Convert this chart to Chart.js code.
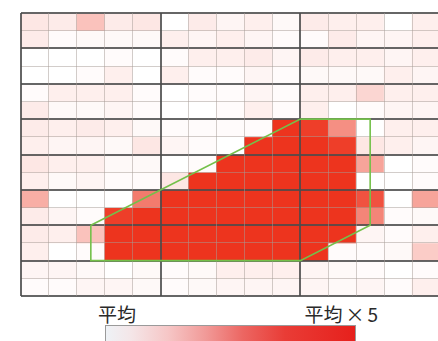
<!DOCTYPE html>
<html>
<head>
<meta charset="utf-8">
<script src="https://cdn.jsdelivr.net/npm/chart.js@4"></script>
<style>
  body { margin: 0; background: #fff; width: 438px; height: 341px; overflow: hidden; position: relative; }
  #wrap { position: absolute; left: 0; top: 0; width: 445px; height: 300px; }
  .lbl { position: absolute; font-family: "Noto Sans CJK JP", "Noto Sans", sans-serif; font-size: 19px; color: #2a2a2a; line-height: 19px; white-space: nowrap; }
  #scale { position: absolute; left: 105px; top: 325px; width: 249px; height: 24px; border: 1px solid #9a9a9a;
    background: linear-gradient(to right, #eef2f6 0%, #f4e6e8 10%, #f6c6c6 25%, #f19a98 40%, #ec6662 55%, #e93c36 72%, #e6201c 100%); }
</style>
</head>
<body>
<div id="wrap"><canvas id="heat"></canvas></div>
<div class="lbl" style="left:98px; top:304px;">平均</div>
<div class="lbl" style="right:60px; top:304px;">平均<span style="margin-left:3px">×</span><span style="margin-left:3px">5</span></div>
<div id="scale"></div>
<script>
// grid: 15 columns x 16 rows, values 0 (white) .. 1 (full red)
const cols = ["c1","c2","c3","c4","c5","c6","c7","c8","c9","c10","c11","c12","c13","c14","c15"];
const values = [
  [0.12,0.10,0.30,0.10,0.12, 0.00,0.10,0.05,0.08,0.03, 0.10,0.08,0.08,0.00,0.08],
  [0.10,0.02,0.03,0.03,0.03, 0.08,0.05,0.08,0.05,0.02, 0.02,0.10,0.05,0.05,0.08],
  [0.00,0.00,0.00,0.02,0.00, 0.02,0.08,0.08,0.10,0.05, 0.10,0.08,0.08,0.05,0.08],
  [0.00,0.00,0.02,0.08,0.00, 0.08,0.02,0.02,0.05,0.02, 0.03,0.03,0.03,0.08,0.05],
  [0.02,0.08,0.08,0.08,0.02, 0.00,0.02,0.02,0.05,0.02, 0.08,0.08,0.20,0.08,0.08],
  [0.10,0.03,0.03,0.05,0.02, 0.00,0.00,0.02,0.08,0.02, 0.08,0.00,0.02,0.05,0.05],
  [0.10,0.08,0.10,0.08,0.03, 0.02,0.02,0.02,0.02,1.00, 0.95,0.55,0.00,0.08,0.08],
  [0.08,0.05,0.05,0.03,0.12, 0.05,0.02,0.00,1.00,1.00, 1.00,0.95,0.12,0.08,0.05],
  [0.12,0.08,0.08,0.03,0.03, 0.00,0.02,1.00,1.00,1.00, 1.00,1.00,0.45,0.00,0.02],
  [0.08,0.03,0.05,0.02,0.02, 0.12,1.00,1.00,1.00,1.00, 1.00,1.00,0.00,0.00,0.02],
  [0.40,0.00,0.00,0.00,0.65, 1.00,1.00,1.00,1.00,1.00, 1.00,1.00,0.85,0.00,0.45],
  [0.10,0.05,0.02,0.95,1.00, 1.00,1.00,1.00,1.00,1.00, 1.00,1.00,0.60,0.02,0.03],
  [0.10,0.08,0.30,1.00,1.00, 1.00,1.00,1.00,1.00,1.00, 1.00,1.00,0.05,0.02,0.08],
  [0.08,0.00,0.02,1.00,1.00, 1.00,1.00,1.00,1.00,1.00, 1.00,0.02,0.02,0.03,0.25],
  [0.05,0.05,0.03,0.00,0.03, 0.02,0.03,0.08,0.08,0.08, 0.05,0.03,0.02,0.00,0.02],
  [0.02,0.02,0.05,0.05,0.03, 0.02,0.03,0.05,0.05,0.05, 0.05,0.03,0.05,0.02,0.08]
];
// green outline, in grid units (x = column edge, y = row edge from top)
const outlineX = [2.5, 10, 12.5, 12.5, 10, 2.5, 2.5];
const outlineY = [12, 6, 6, 12, 14, 14, 12];

function cellColor(v) {
  const r = Math.round(255 + (237 - 255) * v);
  const g = Math.round(255 + (52 - 255) * v);
  const b = Math.round(255 + (30 - 255) * v);
  return `rgb(${r},${g},${b})`;
}

const datasets = values.map((row, i) => ({
  type: "bar",
  label: "row" + (i + 1),
  data: row.map(() => 1),
  backgroundColor: row.map(cellColor),
  borderWidth: 0,
  barPercentage: 1,
  categoryPercentage: 1,
  grouped: false,
  xAxisID: "x",
  yAxisID: "y",
  stack: "grid"
}));

const outlineIndex = datasets.length;
datasets.push({
  type: "line",
  label: "outline",
  data: outlineX.map((x, i) => ({ x: x, y: outlineY[i] })),
  borderColor: "#74c04a",
  borderWidth: 1.6,
  pointRadius: 0,
  tension: 0,
  fill: false,
  xAxisID: "xg",
  yAxisID: "yg"
});

// draw the outline again above the grid lines
const outlineOnTop = {
  id: "outlineOnTop",
  afterDraw(chart) {
    const a = chart.chartArea;
    const ctx = chart.ctx;
    ctx.save();
    ctx.beginPath();
    ctx.rect(a.left - 2, a.top - 2, a.right - a.left + 4, a.bottom - a.top + 4);
    ctx.clip();
    chart.getDatasetMeta(outlineIndex).controller.draw();
    ctx.restore();
  }
};

const thin = "rgba(165,155,150,0.5)";
const thick = "rgba(75,75,75,0.85)";

new Chart(document.getElementById("heat"), {
  data: { labels: cols, datasets: datasets },
  options: {
    responsive: true,
    maintainAspectRatio: false,
    animation: false,
    layout: { padding: { left: 21, top: 13, right: 5, bottom: 4 } },
    plugins: { legend: { display: false }, tooltip: { enabled: false } },
    scales: {
      x: { display: false, stacked: true, offset: true },
      y: {
        stacked: true, reverse: true, min: 0, max: 16,
        border: { display: false },
        ticks: { display: false, stepSize: 1 },
        grid: {
          z: 1,
          drawTicks: false,
          lineWidth: (c) => (c.tick && c.tick.value % 2 === 0 ? 2 : 1),
          color: (c) => (c.tick && c.tick.value % 2 === 0 ? thick : thin)
        }
      },
      xg: {
        type: "linear", position: "bottom", min: 0, max: 15,
        border: { display: false },
        ticks: { display: false, stepSize: 1 },
        grid: {
          z: 1,
          drawTicks: false,
          lineWidth: (c) => (c.tick && c.tick.value % 5 === 0 ? 2 : 1),
          color: (c) => (c.tick && c.tick.value % 5 === 0 ? thick : thin)
        }
      },
      yg: { type: "linear", display: false, reverse: true, min: 0, max: 16 }
    }
  },
  plugins: [outlineOnTop]
});
</script>
</body>
</html>
